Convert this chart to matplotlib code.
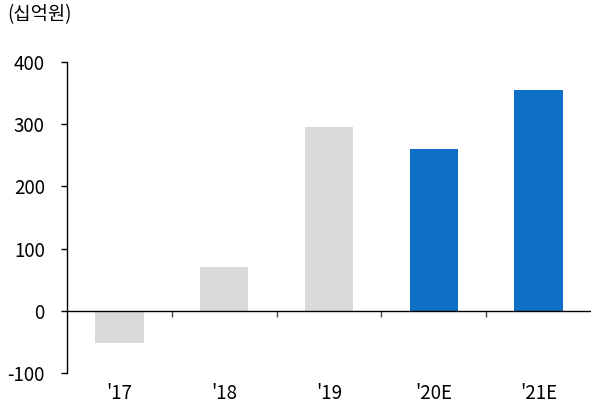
import numpy as np
import matplotlib.pyplot as plt
from matplotlib.ticker import FixedLocator

plt.rcParams['font.family'] = ['Noto Sans CJK KR', 'DejaVu Sans']
plt.rcParams['font.weight'] = 'light'

years = ["'17", "'18", "'19", "'20E", "'21E"]
values = [-52, 70, 295, 260, 355]
colors = ['#D9D9D9', '#D9D9D9', '#D9D9D9', '#0F6FC6', '#0F6FC6']
yticks = [-100, 0, 100, 200, 300, 400]


def main():
    fig = plt.figure(figsize=(5.91, 4.07), dpi=100)
    ax = fig.add_axes([0.1134, 0.0835, 0.8866, 0.7642])
    x = np.arange(len(years))
    ax.bar(x, values, width=0.46, color=colors, zorder=2)

    ax.set_xlim(-0.5, len(years) - 0.5)
    ax.set_ylim(-100, 400)
    ax.set_yticks(yticks)
    ax.set_yticklabels([str(v) for v in yticks], fontsize=13.5)
    ax.tick_params(axis='y', length=4, width=1, pad=12, colors='black')

    for s in ['top', 'right']:
        ax.spines[s].set_visible(False)
    ax.spines['bottom'].set_position(('data', 0))
    ax.spines['bottom'].set_linewidth(1)
    ax.spines['left'].set_linewidth(1)

    ax.set_xticks(x)
    ax.set_xticklabels(years, fontsize=13.5)
    ax.tick_params(axis='x', which='major', length=0, pad=52)
    ax.xaxis.set_minor_locator(FixedLocator(x[:-1] + 0.5))
    ax.tick_params(axis='x', which='minor', length=4, width=1, color='#444444')

    fig.text(0.012, 0.963, '(십억원)', fontsize=13.5, va='center', ha='left')
    fig.savefig('out.png', dpi=100)


if __name__ == '__main__':
    main()
